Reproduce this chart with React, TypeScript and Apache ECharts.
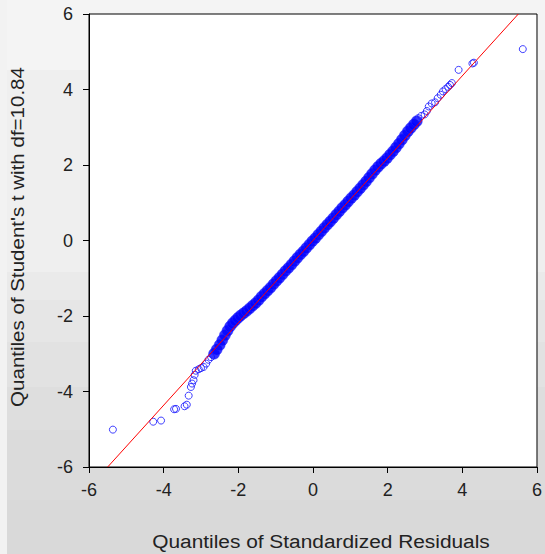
import React, { useEffect, useRef } from "react";
import * as echarts from "echarts";

// Axis ticks
const tickValues = [-6, -4, -2, 0, 2, 4, 6];

// Dense body of the Q-Q cloud (sorted standardized residuals vs Student's t quantiles)
const bodyX = [
  -2.65, -2.58, -2.5, -2.43, -2.36, -2.29, -2.22, -2.15, -2.08, -2.01, -1.94, -1.86, -1.78, -1.7,
  -1.62, -1.54, -1.46, -1.38, -1.3, -1.22, -1.14, -1.06, -0.98, -0.9, -0.82, -0.74, -0.66, -0.58,
  -0.5, -0.42, -0.34, -0.26, -0.18, -0.1, -0.02, 0.06, 0.14, 0.22, 0.3, 0.38, 0.46, 0.54, 0.62,
  0.7, 0.78, 0.86, 0.94, 1.02, 1.1, 1.18, 1.26, 1.34, 1.42, 1.5, 1.58, 1.66, 1.74, 1.82, 1.9,
  1.98, 2.06, 2.14, 2.22, 2.3, 2.38, 2.46, 2.54, 2.62, 2.7, 2.78,
];
const bodyY = [
  -3.0, -2.89, -2.77, -2.64, -2.51, -2.39, -2.28, -2.19, -2.12, -2.05, -1.99, -1.93, -1.87, -1.8,
  -1.73, -1.66, -1.58, -1.49, -1.41, -1.33, -1.25, -1.16, -1.07, -0.99, -0.9, -0.81, -0.73, -0.64,
  -0.55, -0.46, -0.37, -0.29, -0.2, -0.11, -0.02, 0.06, 0.15, 0.24, 0.33, 0.42, 0.5, 0.59, 0.68,
  0.77, 0.86, 0.94, 1.03, 1.12, 1.2, 1.29, 1.38, 1.47, 1.56, 1.66, 1.76, 1.86, 1.95, 2.03, 2.1,
  2.18, 2.27, 2.36, 2.46, 2.56, 2.67, 2.78, 2.89, 2.98, 3.07, 3.16,
];

// Sparse tails (individual open circles)
const lowerTailX = [-5.36, -4.28, -4.07, -3.72, -3.67, -3.44, -3.38, -3.33, -3.27, -3.24, -3.2, -3.17, -3.14, -3.06, -3.0, -2.93, -2.86, -2.8, -2.73];
const lowerTailY = [-5.01, -4.8, -4.77, -4.47, -4.46, -4.39, -4.35, -4.11, -3.88, -3.79, -3.7, -3.56, -3.45, -3.41, -3.38, -3.35, -3.26, -3.16, -3.09];
const upperTailX = [2.82, 2.9, 2.99, 3.05, 3.1, 3.18, 3.27, 3.34, 3.42, 3.48, 3.55, 3.62, 3.67, 3.72, 3.9, 4.27, 4.31, 5.62];
const upperTailY = [3.24, 3.3, 3.34, 3.43, 3.55, 3.63, 3.66, 3.77, 3.86, 3.95, 4.01, 4.07, 4.12, 4.17, 4.52, 4.69, 4.71, 5.07];

// Reference line endpoints
const refLineX = [-5.5, 5.5];
const refLineY = [-6, 6];

const xTitle = "Quantiles of Standardized Residuals";
const yTitle = "Quantiles of Student's t with df=10.84";

const FONT = "'Liberation Sans', Arial, sans-serif";

const zip = (xs: number[], ys: number[]) => xs.map((x, i) => [x, ys[i]]);

export default function App() {
  const ref = useRef<HTMLDivElement>(null);
  useEffect(() => {
    if (!ref.current) return;
    const chart = echarts.init(ref.current, null, { renderer: "svg" });
    const axisCommon = {
      type: "value" as const,
      min: tickValues[0],
      max: tickValues[tickValues.length - 1],
      interval: 2,
      axisLine: { show: true, onZero: false, lineStyle: { color: "#000", width: 1 } },
      axisTick: { show: true, inside: false, length: 6, lineStyle: { color: "#000" } },
      splitLine: { show: false },
      axisLabel: { color: "#222", fontSize: 18, fontFamily: FONT },
    };
    const titleStyle = {
      fill: "#222",
      font: `18px ${FONT}`,
      textAlign: "center",
      textVerticalAlign: "middle",
      align: "center",
      verticalAlign: "middle",
    };
    chart.setOption({
      animation: false,
      backgroundColor: "transparent",
      grid: {
        left: 89,
        right: 2,
        top: 14,
        bottom: 87,
        show: true,
        backgroundColor: "#ffffff",
        borderColor: "#000",
        borderWidth: 1,
      },
      xAxis: { ...axisCommon, axisLabel: { ...axisCommon.axisLabel, margin: 14 } },
      yAxis: { ...axisCommon, axisLabel: { ...axisCommon.axisLabel, margin: 16 } },
      graphic: [
        {
          type: "text",
          x: 321,
          y: 542,
          scaleX: 1.16,
          style: { ...titleStyle, text: xTitle },
        },
        {
          type: "text",
          x: 18,
          y: 237,
          rotation: Math.PI / 2,
          scaleX: 1.14,
          style: { ...titleStyle, text: yTitle },
        },
      ],
      series: [
        {
          type: "scatter",
          data: zip(bodyX, bodyY),
          symbol: "circle",
          symbolSize: 11,
          itemStyle: { color: "#0000ff", borderColor: "#2a2aff", borderWidth: 0.5 },
          silent: true,
        },
        {
          type: "scatter",
          data: zip(lowerTailX, lowerTailY).concat(zip(upperTailX, upperTailY)),
          symbol: "circle",
          symbolSize: 7,
          itemStyle: { color: "rgba(0,0,0,0)", borderColor: "#1010ff", borderWidth: 1 },
          silent: true,
        },
        {
          type: "line",
          data: zip(refLineX, refLineY),
          symbol: "none",
          lineStyle: { color: "#ff0000", width: 1 },
          silent: true,
          z: 5,
        },
      ],
    });
    return () => chart.dispose();
  }, []);

  const bg =
    "linear-gradient(to bottom, #f4f4f4 0px, #f4f4f4 70px, #efefef 70px, #efefef 272px, #eaeaea 272px, #eaeaea 300px, #e6e6e6 300px, #e6e6e6 342px, #e2e2e2 342px, #e2e2e2 387px, #dedede 387px, #dedede 430px, #dbdbdb 430px, #dbdbdb 500px, #d9d9d9 500px, #d9d9d9 554px)";

  return (
    <div style={{ position: "fixed", left: 0, top: 0, width: 545, height: 554, background: bg, overflow: "hidden" }}>
      <div style={{ position: "absolute", left: 0, top: 0, width: 7, height: 554, background: "#f2f2f2" }} />
      <div ref={ref} style={{ position: "absolute", left: 0, top: 0, width: 545, height: 554 }} />
    </div>
  );
}
